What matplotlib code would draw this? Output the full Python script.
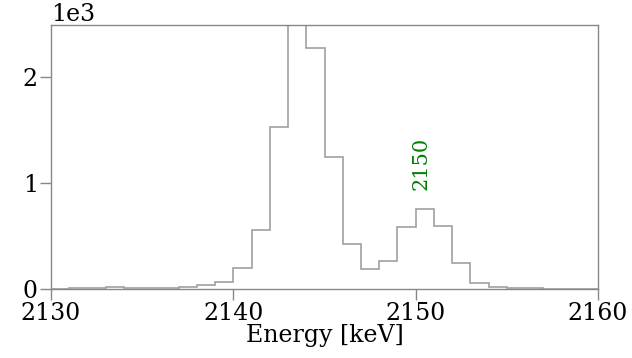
import matplotlib.pyplot as plt
import numpy as np

plt.rcParams['font.family'] = 'DejaVu Serif'

# bin edges (keV) and counts per 1 keV bin
edges = np.arange(2130, 2161, 1)
counts = [3, 5, 12, 15, 8, 10, 14, 20, 35, 63,
          195, 557, 1531, 2490, 2276, 1245, 425, 186, 264, 588,
          752, 590, 242, 60, 22, 12, 6, 4, 3, 2]

peak_label = '2150'
peak_x = 2150.3
peak_y = 930

fig = plt.figure(figsize=(6.32, 3.58), dpi=100)
ax = fig.add_axes([0.0807, 0.1927, 0.8655, 0.7375])

ax.stairs(counts, edges, color='#a0a0a0', linewidth=1.2)

ax.text(peak_x, peak_y, peak_label, rotation=90, color='green',
        fontsize=15, ha='center', va='bottom')

ax.set_xlim(2130, 2160)
ax.set_ylim(0, max(counts))
ax.set_xticks([2130, 2140, 2150, 2160])
ax.set_yticks([0, 1000, 2000])
ax.ticklabel_format(axis='y', style='sci', scilimits=(0, 0), useMathText=False)
ax.yaxis.get_offset_text().set_fontsize(17)

ax.set_xlabel('Energy [keV]', fontsize=17, labelpad=-1)
ax.tick_params(labelsize=17, length=8, width=1, color='#888888', pad=1.5)
for s in ax.spines.values():
    s.set_color('#888888')
    s.set_linewidth(1)

fig.savefig('out.png', dpi=100)
